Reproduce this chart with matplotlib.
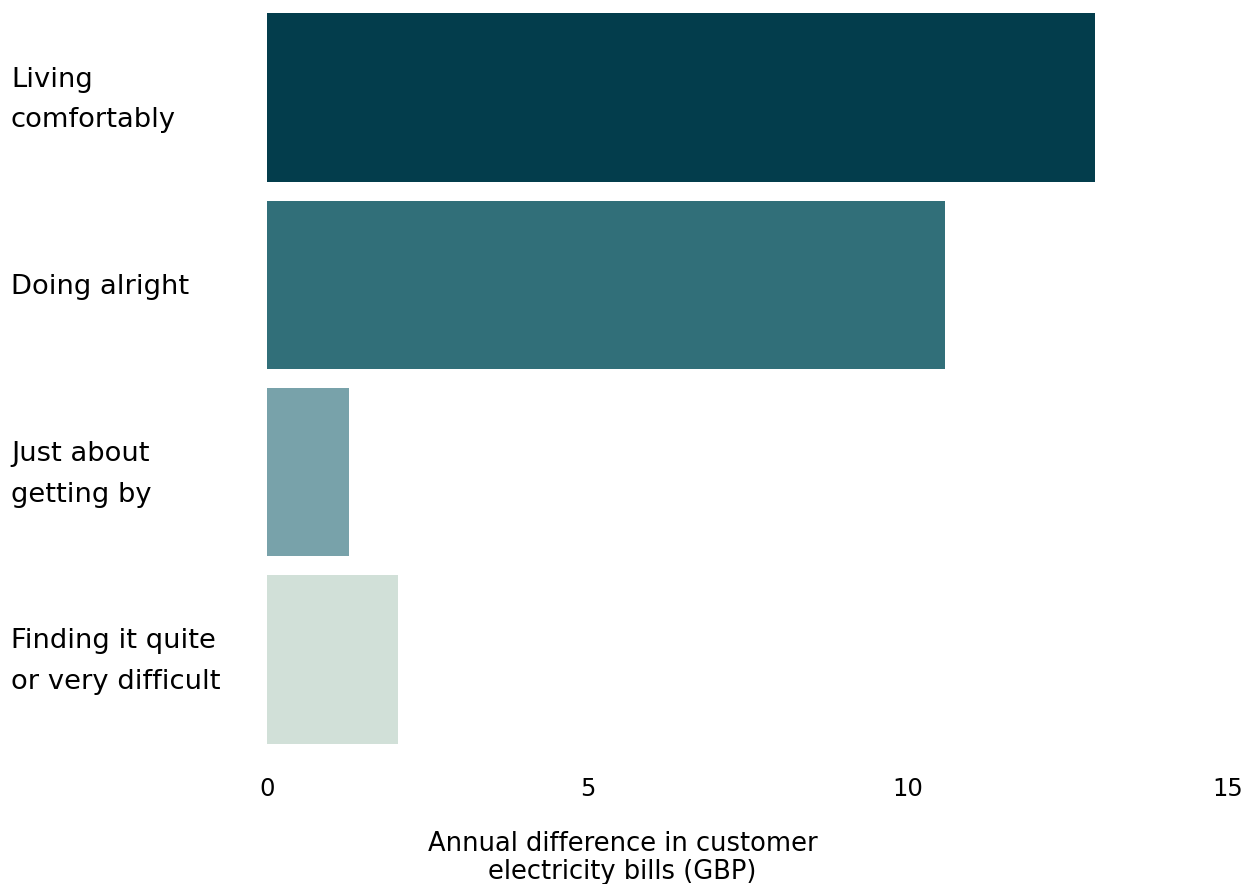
import matplotlib.pyplot as plt

categories = ["Living\ncomfortably", "Doing alright", "Just about\ngetting by",
              "Finding it quite\nor very difficult"]
values = [12.92, 10.58, 1.28, 2.04]
colors = ["#033d4c", "#316f79", "#78a2aa", "#d1e0d8"]
xticks = [0, 5, 10, 15]

fig = plt.figure(figsize=(12.45, 8.84), dpi=100)
ax = fig.add_axes([267 / 1245, 1 - 753 / 884, 961 / 1245, 749 / 884])

ypos = list(range(len(categories)))
ax.barh(ypos, values, height=0.9, color=colors)
ax.set_xlim(0, 15)
ax.set_ylim(len(categories) - 0.5, -0.5)

ax.set_xticks(xticks)
ax.set_xticklabels([str(t) for t in xticks], fontsize=17.5)
ax.tick_params(axis="x", length=0, pad=17)
ax.set_yticks([])
for s in ax.spines.values():
    s.set_visible(False)

for y, lab in zip(ypos, categories):
    ax.text(-256 / 961, y + 0.012, lab, transform=ax.get_yaxis_transform(),
            ha="left", va="center", fontsize=19.7, linespacing=1.72)

fig.text(0.5, 1 - 858 / 884, "Annual difference in customer\nelectricity bills (GBP)",
         ha="center", va="center", fontsize=18.5, linespacing=1.08)

fig.savefig("out.png", dpi=100)
